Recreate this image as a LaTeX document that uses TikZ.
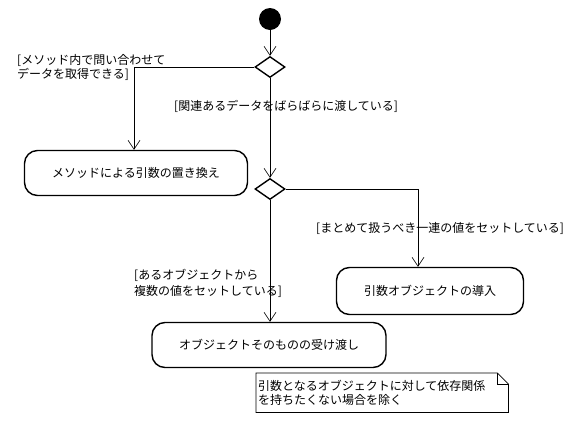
\documentclass[tikz,border=0pt]{standalone}
\usepackage{fontspec}
\setmainfont{Noto Sans CJK JP}
\usetikzlibrary{arrows.meta, positioning, shapes.geometric}

\begin{document}
\begin{tikzpicture}[
			x=1pt, y=-1pt,
			every node/.style={font=\fontsize{12}{14}\selectfont},
			activity/.style={draw, line width=1.4pt, rounded corners=13pt, minimum height=45pt, inner sep=0pt},
			decision/.style={draw, diamond, line width=1.4pt, minimum width=30pt, minimum height=21pt, inner sep=0pt},
			guard/.style={align=left, inner sep=0pt},
			flow/.style={-{Straight Barb[length=9pt, width=12pt]}, line width=0.6pt}
		]
		\useasboundingbox (0,0) rectangle (584,424);
		\fill[white] (0,0) rectangle (584,424);

		\node[circle, fill=black, minimum size=22pt, inner sep=0pt] (start) at (270,19) {};
		\node[decision] (d1) at (270,67) {};
		\node[decision] (d2) at (270,189) {};

		\node[activity, minimum width=223pt] (replace) at (136,173) {メソッドによる引数の置き換え};
		\node[activity, minimum width=187pt, minimum height=47pt] (paramobj) at (430,291) {引数オブジェクトの導入};
		\node[activity, minimum width=234pt] (wholeobj) at (269,345) {オブジェクトそのものの受け渡し};

		% guards
		\node[guard, anchor=north west] (g1) at (17,54) {[メソッド内で問い合わせて\\データを取得できる]};
		\node[guard, anchor=west] (g2) at (174,106) {[関連あるデータをばらばらに渡している]};
		\node[guard, anchor=west] (g3) at (316,228) {[まとめて扱うべき一連の値をセットしている]};
		\node[guard, anchor=north west] (g4) at (134,269) {[あるオブジェクトから\\[2pt]複数の値をセットしている]};

		% note
		\node[anchor=north west, text width=248pt, align=left, inner xsep=2pt, inner ysep=0pt,
			minimum height=39pt] (note) at (256,373)
			{引数となるオブジェクトに対して依存関係\\を持ちたくない場合を除く};
		\draw[line width=0.8pt] (note.north west) -- ([xshift=-11pt]note.north east)
			-- ([yshift=-11pt]note.north east) -- (note.south east) -- (note.south west) -- cycle;
		\draw[line width=0.8pt] ([xshift=-11pt]note.north east) -- ([xshift=-11pt, yshift=-11pt]note.north east)
			-- ([yshift=-11pt]note.north east);

		\draw[flow] (start) -- (d1);
		\draw[flow] (d1.west) -| ([xshift=-2pt]replace.north);
		\draw[flow] (d1.south) -- (d2.north);
		\draw[flow] (d2.east) -| ([xshift=-12pt]paramobj.north);
		\draw[flow] (d2.south) -- (wholeobj.north -| d2.south);
	\end{tikzpicture}
\end{document}
